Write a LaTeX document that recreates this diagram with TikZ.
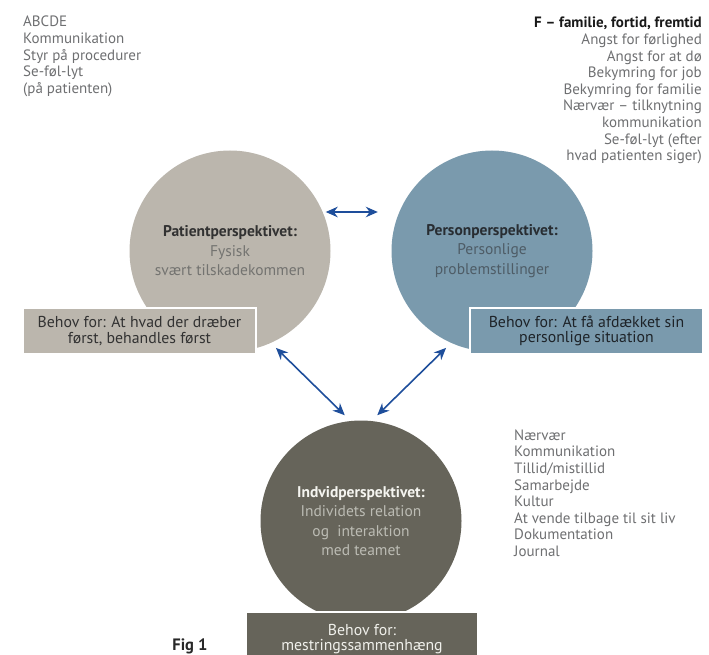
\documentclass[tikz,border=0pt]{standalone}
\usepackage{fontspec}
\setmainfont{PT Sans}
\usetikzlibrary{arrows.meta}
\definecolor{patgray}{RGB}{187,182,173}
\definecolor{perblue}{RGB}{122,154,173}
\definecolor{inddark}{RGB}{102,100,90}
\definecolor{txtgray}{RGB}{110,111,113}
\definecolor{arrblue}{RGB}{30,78,155}
\begin{document}
\begin{tikzpicture}[x=1pt,y=-1pt,
	circ/.style={circle,minimum size=201pt,inner sep=0pt,align=center,font=\fontsize{15.5}{19.5}\selectfont},
	need/.style={draw=white,line width=2.5pt,minimum width=233pt,minimum height=46pt,inner sep=0pt,align=center,font=\fontsize{15.8}{15.5}\selectfont},
	note/.style={inner sep=0pt,text=txtgray,font=\fontsize{15}{16.6}\selectfont},
	conn/.style={arrblue,line width=1.6pt,{Stealth[length=12pt,width=10.5pt]}-{Stealth[length=12pt,width=10.5pt]}}]
	\useasboundingbox (0,0) rectangle (709,655);
	% the three perspectives
	\node[circ,fill=patgray] (pat) at (230,251) {\textbf{\color[RGB]{50,50,50}Patientperspektivet:}\\\color[RGB]{115,115,112}Fysisk\\\color[RGB]{115,115,112}svært tilskadekommen};
	\node[circ,fill=perblue] (per) at (492,251) {\textbf{\color[RGB]{40,45,50}Personperspektivet:}\\\color[RGB]{78,92,102}Personlige\\\color[RGB]{78,92,102}problemstillinger};
	\node[circ,fill=inddark] (ind) at (361,521) {\textbf{\color[RGB]{245,245,240}Indvidperspektivet:}\\\color[RGB]{188,188,180}Individets relation\\\color[RGB]{188,188,180}og~ interaktion\\\color[RGB]{188,188,180}med teamet};
	% needs
	\node[need,fill=patgray,text={rgb,255:red,50;green,50;blue,50}] (patneed) at (139.5,331) {Behov for: At hvad der dræber\\først, behandles først};
	\node[need,fill=perblue,text={rgb,255:red,30;green,35;blue,40}] (perneed) at (586.5,331) {Behov for: At få afdækket sin\\personlige situation};
	\node[need,fill=inddark,minimum height=54pt,text={rgb,255:red,240;green,240;blue,235}] (indneed) at (362,639) {Behov for:\\mestringssammenhæng};
	% connectors
	\draw[conn] ([shift={(-5,-39)}]pat.east) -- ([shift={(-13.5,-39)}]per.west);
	\draw[conn,shorten <=7pt,shorten >=8pt] (pat.-66) -- (ind.96);
	\draw[conn,shorten <=7pt,shorten >=8pt] (per.-114) -- (ind.84);
	% notes
	\node[note,anchor=north west,align=left] (patnote) at (23,16) {ABCDE\\Kommunikation\\Styr på procedurer\\Se-føl-lyt\\(på patienten)};
	\node[note,anchor=north east,align=right] (pernote) at (702,17) {\textbf{\color[RGB]{25,25,25}F – familie, fortid, fremtid}\\Angst for førlighed\\Angst for at dø\\Bekymring for job\\Bekymring for familie\\Nærvær – tilknytning\\kommunikation\\Se-føl-lyt (efter\\hvad patienten siger)};
	\node[note,anchor=north west,align=left] (indnote) at (514,429.5) {Nærvær\\Kommunikation\\Tillid/mistillid\\Samarbejde\\Kultur\\At vende tilbage til sit liv\\Dokumentation\\Journal};
	\node[inner sep=0pt,font=\fontsize{16.5}{18}\bfseries,text={rgb,255:red,40;green,40;blue,40}] (fig) at (190,646) {Fig 1};
\end{tikzpicture}
\end{document}
